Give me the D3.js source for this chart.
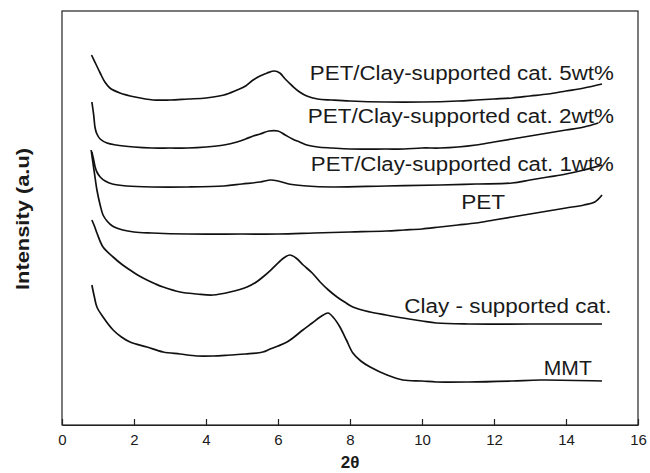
<!DOCTYPE html>
<html>
<head>
<meta charset="utf-8">
<script src="https://cdn.jsdelivr.net/npm/d3@7"></script>
<style>
  html, body { margin: 0; padding: 0; background: #fff; }
  svg { display: block; }
  text { font-family: "Liberation Sans", Arial, Helvetica, sans-serif; fill: #1a1a1a; }
</style>
</head>
<body>
<svg id="chart" width="650" height="473"></svg>
<script>
// ---- data (2θ in degrees, intensity in arbitrary units) ----
const xTicks = [0, 2, 4, 6, 8, 10, 12, 14, 16];

const theta5wt = [0.82,0.94,1.06,1.19,1.33,1.61,2.03,2.53,3.0,3.5,4.0,4.5,4.86,5.1,5.31,5.5,5.7,5.9,6.05,6.2,6.4,6.6,6.8,7.1,7.5,8.0,9.0,10.0,11.0,11.5,12.0,12.5,13.0,13.5,14.0,14.5,15.0];
const int5wt   = [370,361,352,343,337,332,328,325,325,326,327,330,335,339,345,349,352,354,352,346,339,333,329,326,325,324,323,323,324,325,326,327,329,331,334,337,341];

const theta2wt = [0.83,0.88,0.92,0.97,1.06,1.25,1.5,2.0,2.5,3.0,3.5,4.0,4.5,4.86,5.1,5.31,5.5,5.75,6.0,6.2,6.4,6.6,6.8,7.1,7.5,8.0,9.0,9.5,10.0,10.5,11.0,11.5,12.0,12.5,13.0,13.5,14.0,14.5,14.9];
const int2wt   = [323,310,297,291,286,282,280,278,277,277,277,278,280,283,286,289,291,294,294,290,286,283,280,278,277,276,276,276,277,277,278,280,283,286,289,292,295,298,302];

const theta1wt = [0.83,0.88,0.92,0.97,1.06,1.2,1.4,1.8,2.5,3.5,4.5,5.0,5.5,5.8,6.0,6.3,6.8,7.5,9.0,10.5,11.5,12.5,13.0,13.5,14.0,14.5,15.0];
const int1wt   = [273,265,258,253,248,244,241,239,238,238,239,241,243,245,244,241,239,238,239,240,241,242,245,248,251,255,260];

const thetaPET = [0.81,0.86,0.92,0.97,1.06,1.14,1.25,1.4,1.69,2.0,2.5,3.5,5.0,6.0,7.0,8.0,9.0,9.5,10.0,10.5,11.0,11.5,12.0,12.5,13.0,13.5,14.0,14.5,14.8,15.0];
const intPET   = [275,262,247,235,220,210,204,199,195,193,192,191,191,191,192,193,194,195,196,198,200,202,205,208,211,214,217,220,223,230];

const thetaClay = [0.83,0.9,0.97,1.14,1.42,1.65,1.89,2.1,2.36,2.6,2.81,3.28,3.75,4.19,4.67,5.14,5.4,5.58,5.8,6.06,6.2,6.33,6.5,6.7,6.95,7.17,7.4,7.64,7.85,8.08,8.56,9.0,9.47,10.0,10.4,11.3,13.0,15.0];
const intClay   = [205,199,192,178,168,161,155,150,145,141,138,133,131,130,133,138,143,148,155,164,168,170,167,160,152,143,135,128,123,118,113,110,107,104,102,101,101,101];

const thetaMMT = [0.83,0.9,0.97,1.14,1.42,1.65,1.89,2.36,2.81,3.28,3.75,4.2,4.67,5.1,5.58,5.78,6.0,6.25,6.45,6.69,6.95,7.17,7.39,7.55,7.72,7.9,8.08,8.3,8.56,9.03,9.47,10.0,10.4,11.3,12.5,13.3,15.0];
const intMMT   = [140,128,118,108,95,88,83,78,73,71,69,69,70,71,73,76,79,83,88,95,102,108,112,107,98,85,72,64,58,50,45,44,43,43,44,45,44];

const seriesLabels = ["PET/Clay-supported cat. 5wt%", "PET/Clay-supported cat. 2wt%", "PET/Clay-supported cat. 1wt%", "PET", "Clay - supported cat.", "MMT"];
const xTitle = "2θ";
const yTitle = "Intensity (a.u)";

// ---- layout ----
const plot = { left: 62, right: 638, top: 11, bottom: 425 };

const svg = d3.select("#chart");
const x = d3.scaleLinear().domain([0, 16]).range([plot.left, plot.right]);
const y = d3.scaleLinear().domain([0, 414]).range([plot.bottom, plot.top]);

// frame
svg.append("rect")
  .attr("x", plot.left).attr("y", plot.top)
  .attr("width", plot.right - plot.left).attr("height", plot.bottom - plot.top)
  .attr("fill", "none").attr("stroke", "#222").attr("stroke-width", 1.2);

// x axis
const xAxis = d3.axisBottom(x).tickValues(xTicks).tickFormat(d3.format("d"))
  .tickSizeInner(-6).tickSizeOuter(0).tickPadding(9);
const gx = svg.append("g").attr("transform", `translate(0,${plot.bottom})`).call(xAxis);
gx.select(".domain").attr("stroke", "#222").attr("stroke-width", 1.2);
gx.selectAll(".tick line").attr("stroke", "#222").attr("stroke-width", 1.2);
gx.selectAll(".tick text").attr("font-size", 15).attr("fill", "#1a1a1a")
  .style("font-family", "'Liberation Sans', Arial, sans-serif");

// series
const series = [
  { t: theta5wt, v: int5wt },
  { t: theta2wt, v: int2wt },
  { t: theta1wt, v: int1wt },
  { t: thetaPET, v: intPET },
  { t: thetaClay, v: intClay },
  { t: thetaMMT, v: intMMT }
];
const line = d3.line().x(d => x(d[0])).y(d => y(d[1])).curve(d3.curveCatmullRom.alpha(0.5));
series.forEach(s => {
  const pts = s.t.map((t, i) => [t, s.v[i]]);
  svg.append("path").datum(pts)
    .attr("d", line)
    .attr("fill", "none")
    .attr("stroke", "#111")
    .attr("stroke-width", 1.7)
    .attr("stroke-linejoin", "round");
});

// series labels (anchor position in data coords: theta, intensity)
const labelTheta = [15.33, 15.33, 15.33, 11.7, 15.26, 14.05];
const labelInt   = [345, 302, 254, 216, 112, 50];
const labelLen   = [304, 306, 303, 44, 207, 48];
const labelAnchor = ["end", "end", "end", "middle", "end", "middle"];
seriesLabels.forEach((lab, i) => {
  svg.append("text")
    .attr("x", x(labelTheta[i]))
    .attr("y", y(labelInt[i]))
    .attr("text-anchor", labelAnchor[i])
    .attr("font-size", 20)
    .attr("textLength", labelLen[i])
    .attr("lengthAdjust", "spacingAndGlyphs")
    .text(lab);
});

// axis titles
svg.append("text")
  .attr("x", x(8)).attr("y", 468)
  .attr("text-anchor", "middle")
  .attr("font-size", 17).attr("font-weight", "bold")
  .text(xTitle);

svg.append("text")
  .attr("transform", `translate(29,219) rotate(-90)`)
  .attr("text-anchor", "middle")
  .attr("font-size", 18).attr("font-weight", "bold")
  .attr("textLength", 142)
  .attr("lengthAdjust", "spacingAndGlyphs")
  .text(yTitle);
</script>
</body>
</html>
